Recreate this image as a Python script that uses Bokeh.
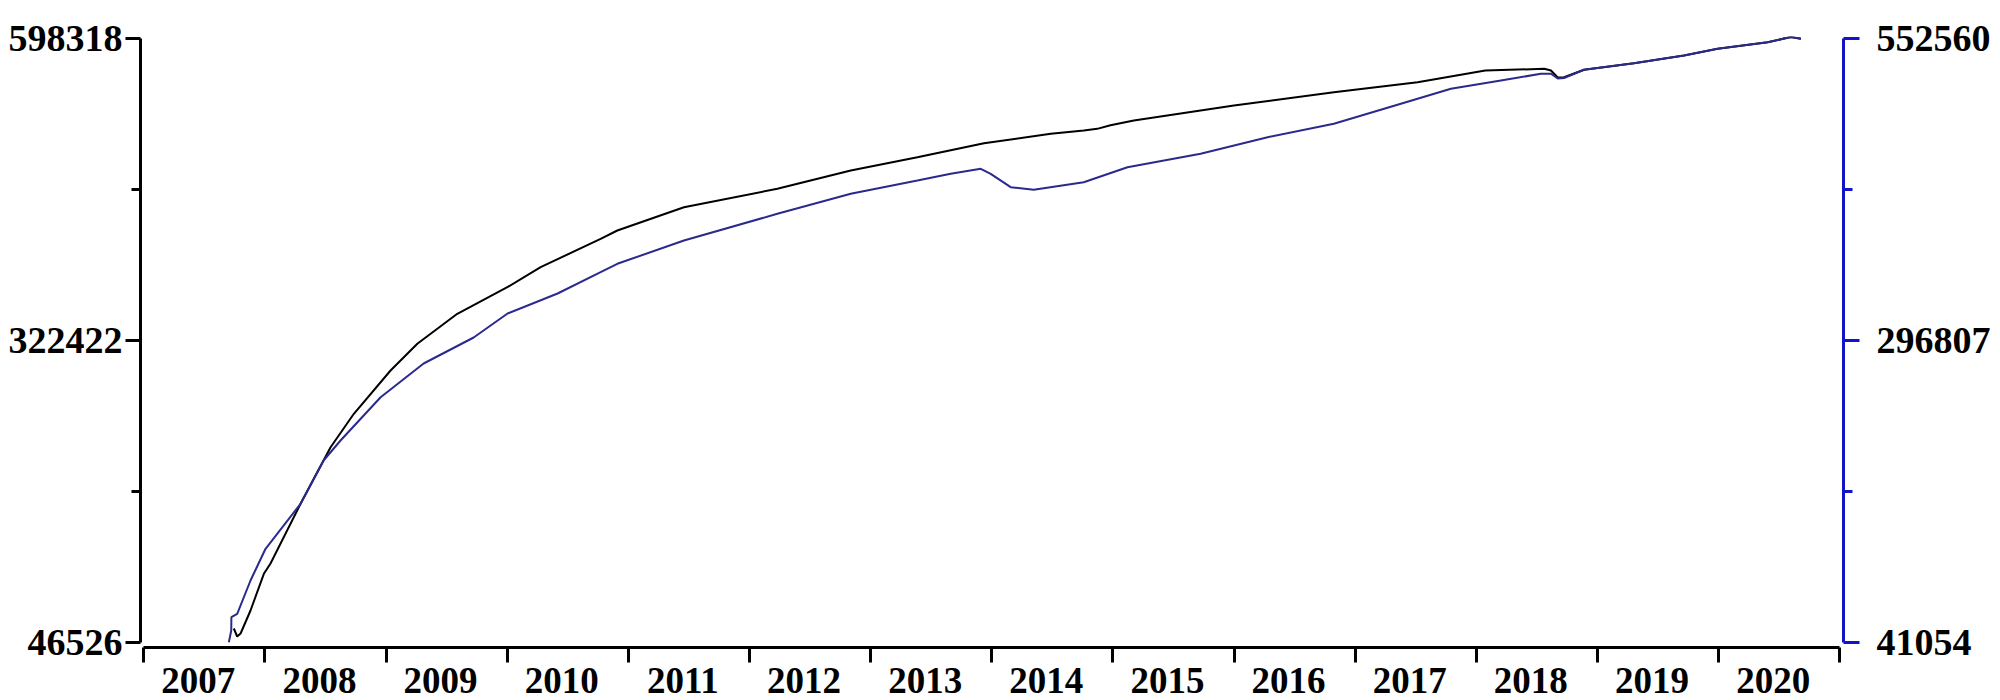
from bokeh.plotting import figure
from bokeh.models import (Range1d, LinearAxis, FixedTicker, NumeralTickFormatter,
                          CustomJSTickFormatter)
from bokeh.embed import file_html
from bokeh.resources import INLINE

# ---------------- data ----------------
years = list(range(2007, 2021))
left_ticks = [46526, 322422, 598318]
right_ticks = [41054, 296807, 552560]

black_x = [2007.743, 2007.771, 2007.799, 2007.881, 2007.991, 2008.046, 2008.294,
           2008.542, 2008.734, 2009.037, 2009.258, 2009.588, 2010.001, 2010.276,
           2010.771, 2010.909, 2011.459, 2012.230, 2012.836, 2013.386, 2013.936,
           2014.487, 2014.760, 2014.870, 2014.980, 2015.173, 2015.999, 2016.824,
           2017.515, 2018.074, 2018.561, 2018.616, 2018.672, 2018.724, 2018.889,
           2019.301, 2019.714, 2019.992, 2020.405, 2020.597, 2020.679]
black_y = [59332, 52020, 54762, 75784, 109328, 118742, 173308,
           225040, 255568, 295144, 319548, 346968, 371280, 389560,
           415518, 423104, 444400, 461218, 477944, 490100, 502896,
           511488, 514504, 516000, 519300, 523644, 537354, 549510,
           558650, 569344, 570898, 569344, 562946, 563220, 569984,
           576016, 583054, 589178, 595210, 599963, 598318]

blue_x = [2007.702, 2007.722, 2007.723, 2007.771, 2007.881, 2008.005, 2008.294,
          2008.484, 2008.624, 2008.955, 2009.310, 2009.723, 2010.003, 2010.416,
          2010.771, 2010.909, 2011.459, 2012.230, 2012.836, 2013.386, 2013.661,
          2013.909, 2013.991, 2014.156, 2014.346, 2014.759, 2015.120, 2015.724,
          2016.277, 2016.824, 2017.377, 2017.790, 2018.203, 2018.533, 2018.616,
          2018.672, 2018.724, 2018.889, 2019.301, 2019.714, 2019.992, 2020.405,
          2020.597, 2020.679]
blue_y = [41299, 51213, 62482, 65362, 93578, 120437, 158565,
          195254, 212200, 248888, 277442, 299471, 319807, 336753,
          354800, 361917, 381660, 404282, 421228, 432498, 438174,
          442411, 438174, 426821, 424618, 431057, 443767, 455120,
          469186, 480539, 497485, 510195, 517228, 522904, 522904,
          518922, 519346, 526294, 531886, 538410, 544087, 549679,
          554085, 552560]

left_minor = [(left_ticks[0] + left_ticks[1]) / 2, (left_ticks[1] + left_ticks[2]) / 2]
right_minor = [(right_ticks[0] + right_ticks[1]) / 2, (right_ticks[1] + right_ticks[2]) / 2]

# ---------------- figure ----------------
FONT = "Liberation Serif"
AXIS_BLUE = "#1212c8"
LINE_BLUE = "#2a2a8c"

p = figure(width=2000, height=700,
           x_range=Range1d(2006.9728, 2021.0309),
           y_range=Range1d(-6476, 600420),
           output_backend="svg", toolbar_location=None,
           x_axis_location=None,
           min_border_left=140, min_border_right=157,
           min_border_top=36, min_border_bottom=0)
p.extra_y_ranges = {"right": Range1d(-8098, 554509)}
p.grid.visible = False
p.outline_line_color = None
p.background_fill_color = "white"
p.border_fill_color = "white"

p.line(black_x, black_y, line_color="black", line_width=2)
p.line(blue_x, blue_y, line_color=LINE_BLUE, line_width=2, y_range_name="right")

# left axis
ya = p.yaxis[0]
ya.ticker = FixedTicker(ticks=left_ticks, minor_ticks=left_minor)
ya.formatter = NumeralTickFormatter(format="0")
ya.bounds = (left_ticks[0], left_ticks[-1])
ya.axis_line_width = 3
ya.major_tick_line_width = 3
ya.minor_tick_line_width = 3
ya.major_tick_out = 15
ya.major_tick_in = 0
ya.minor_tick_out = 9
ya.minor_tick_in = 0
ya.major_label_standoff = 3
ya.major_label_text_font = FONT
ya.major_label_text_font_style = "bold"
ya.major_label_text_font_size = "38px"
ya.major_label_text_color = "black"

# right axis
ra = LinearAxis(y_range_name="right",
                ticker=FixedTicker(ticks=right_ticks, minor_ticks=right_minor),
                formatter=NumeralTickFormatter(format="0"),
                bounds=(right_ticks[0], right_ticks[-1]))
ra.axis_line_width = 3
ra.axis_line_color = AXIS_BLUE
ra.major_tick_line_color = AXIS_BLUE
ra.minor_tick_line_color = AXIS_BLUE
ra.major_tick_line_width = 3
ra.minor_tick_line_width = 3
ra.major_tick_out = 16
ra.major_tick_in = 0
ra.minor_tick_out = 9
ra.minor_tick_in = 0
ra.major_label_standoff = 17
ra.major_label_text_font = FONT
ra.major_label_text_font_style = "bold"
ra.major_label_text_font_size = "38px"
ra.major_label_text_color = "black"
p.add_layout(ra, "right")

# bottom (year) axis, drawn a little below the lowest y tick
px_per_unit = 603.7 / (left_ticks[-1] - left_ticks[0])
xaxis_y = left_ticks[0] - 4.5 / px_per_unit
xa = LinearAxis(fixed_location=xaxis_y,
                bounds=(years[0], years[-1] + 1),
                ticker=FixedTicker(ticks=[y + 0.45 for y in years],
                                   minor_ticks=years + [years[-1] + 1]),
                formatter=CustomJSTickFormatter(code="return Math.floor(tick).toString();"))
xa.axis_line_width = 3
xa.major_tick_out = 0
xa.major_tick_in = 0
xa.minor_tick_out = 15
xa.minor_tick_in = 0
xa.minor_tick_line_width = 3
xa.major_label_standoff = 6
xa.major_label_text_font = FONT
xa.major_label_text_font_style = "bold"
xa.major_label_text_font_size = "37px"
xa.major_label_text_color = "black"
p.add_layout(xa, "below")

open("out.html", "w").write(file_html(p, INLINE))
